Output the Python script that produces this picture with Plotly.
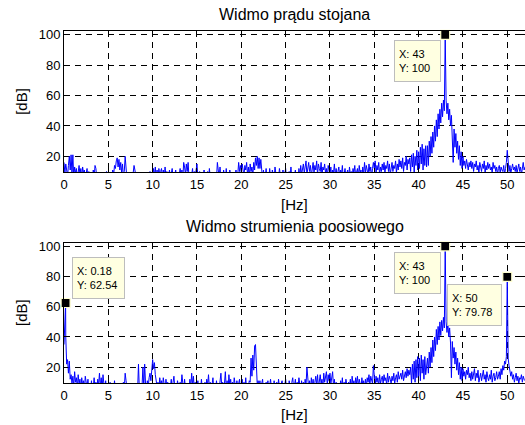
import plotly.graph_objects as go

FONT = "Liberation Sans, Arial, Helvetica, sans-serif"
FREQ_STEP = 0.1  # Hz between spectrum bins, first bin at 0 Hz

# Stator current spectrum [dB], one row per hertz (0.0 .. 52.0 Hz).
# None marks a bin whose value comes from the data-tip lists.
stator_db = [
    16, 9, 15, 12, 7, 14, 20, 11, 21, 8,
    21, 6, 13, 9, 12, 5, 11, 14, 8, 12,
    6, 13, 9, 11, 5, 8, 12, 4, 10, 7,
    5, 9, 4, 11, 6, 14, 12, 5, 7, 4,
    6, 3, 7, 4, 8, 5, 3, 6, 10, 4,
    3, 6, 4, 9, 5, 11, 8, 14, 12, 17,
    19, 13, 18, 11, 16, 9, 15, 6, 10, 20,
    12, 5, 8, 4, 7, 3, 6, 4, 9, 14,
    11, 5, 3, 6, 4, 7, 3, 5, 4, 6,
    4, 7, 3, 5, 8, 4, 6, 10, 5, 8,
    5, 12, 7, 13, 6, 11, 4, 12, 8, 10,
    12, 6, 11, 5, 13, 7, 10, 4, 8, 11,
    5, 9, 12, 6, 4, 8, 11, 5, 7, 4,
    9, 12, 6, 11, 5, 16, 13, 8, 15, 10,
    16, 6, 9, 4, 8, 12, 5, 10, 7, 12,
    15, 7, 4, 10, 5, 8, 3, 6, 11, 4,
    7, 5, 10, 4, 12, 6, 3, 8, 5, 9,
    4, 7, 5, 16, 11, 6, 13, 5, 9, 4,
    11, 6, 4, 12, 5, 8, 3, 11, 6, 4,
    6, 9, 4, 7, 11, 5, 8, 16, 10, 14,
    9, 15, 12, 7, 14, 11, 16, 8, 13, 6,
    15, 10, 13, 7, 16, 11, 19, 14, 20, 12,
    19, 12, 18, 8, 5, 11, 4, 7, 12, 5,
    9, 5, 12, 6, 4, 11, 7, 5, 13, 6,
    4, 8, 5, 12, 7, 4, 6, 11, 5, 9,
    12, 5, 7, 4, 10, 6, 13, 5, 8, 4,
    7, 11, 5, 9, 4, 12, 6, 14, 8, 12,
    15, 9, 13, 17, 8, 12, 16, 10, 14, 7,
    13, 16, 9, 14, 11, 17, 8, 15, 12, 10,
    16, 7, 13, 11, 15, 9, 12, 6, 14, 10,
    8, 13, 5, 11, 9, 15, 7, 12, 6, 10,
    13, 6, 11, 8, 14, 5, 10, 12, 7, 9,
    11, 5, 13, 8, 10, 6, 12, 9, 14, 7,
    10, 12, 6, 14, 9, 11, 5, 13, 8, 16,
    9, 14, 11, 7, 15, 10, 13, 6, 12, 16,
    12, 17, 9, 14, 11, 16, 8, 13, 10, 15,
    11, 16, 9, 14, 12, 17, 10, 15, 8, 13,
    16, 10, 14, 12, 17, 9, 15, 11, 18, 13,
    17, 12, 19, 10, 16, 14, 20, 11, 18, 15,
    19, 10, 21, 13, 22, 9, 20, 14, 24, 11,
    23, 12, 26, 15, 28, 11, 25, 14, 27, 13,
    27, 14, 30, 20, 33, 22, 36, 26, 40, 30,
    44, 33, 48, 38, 51, 42, 55, 46, 57, 50,
    None, 57, 48, 55, 44, 51, 40, 47, 36, 16,
    38, 26, 35, 22, 30, 18, 27, 14, 23, 12,
    20, 14, 17, 12, 18, 15, 11, 16, 13, 17,
    12, 16, 10, 15, 13, 17, 11, 14, 9, 16,
    13, 10, 15, 12, 17, 9, 14, 11, 16, 12,
    15, 11, 13, 9, 16, 12, 14, 10, 13, 8,
    12, 14, 9, 13, 11, 10, 14, 8, 12, 16,
    24, 13, 10, 14, 9, 12, 15, 11, 13, 10,
    14, 9, 12, 15, 10, 13, 8, 12, 16, 11,
    13,
]
stator_tip_hz = [43]
stator_tip_db = [100]

# Axial flux spectrum [dB], same bin layout.
flux_db = [
    35, 48, 40, 22, 25, 16, 24, 12, 15, 9,
    14, 7, 17, 10, 13, 6, 15, 9, 12, 5,
    13, 8, 11, 5, 14, 9, 6, 12, 4, 7,
    5, 11, 4, 7, 13, 6, 10, 4, 12, 8,
    16, 7, 13, 5, 15, 9, 6, 11, 4, 8,
    4, 7, 10, 5, 3, 8, 5, 11, 4, 6,
    9, 4, 6, 3, 7, 5, 8, 10, 6, 16,
    11, 6, 9, 4, 7, 3, 6, 4, 8, 5,
    6, 3, 7, 4, 22, 5, 8, 4, 7, 20,
    6, 22, 9, 5, 11, 7, 13, 16, 11, 18,
    25, 19, 23, 15, 12, 7, 10, 5, 13, 8,
    11, 6, 13, 8, 4, 12, 7, 10, 5, 9,
    7, 12, 5, 10, 14, 6, 9, 4, 11, 8,
    5, 10, 7, 15, 9, 4, 12, 6, 8, 5,
    9, 4, 12, 6, 16, 8, 14, 5, 10, 4,
    7, 11, 5, 9, 4, 12, 6, 8, 3, 10,
    5, 12, 8, 15, 6, 10, 4, 9, 13, 5,
    8, 4, 11, 6, 9, 5, 12, 16, 7, 10,
    5, 9, 17, 6, 11, 4, 15, 8, 12, 6,
    10, 5, 13, 7, 4, 11, 6, 9, 12, 5,
    8, 12, 4, 10, 6, 13, 5, 9, 7, 11,
    10, 26, 14, 28, 18, 34, 35, 12, 8, 11,
    6, 11, 4, 9, 12, 5, 8, 3, 10, 6,
    11, 4, 8, 12, 6, 9, 3, 11, 5, 7,
    10, 5, 12, 7, 4, 9, 11, 6, 3, 8,
    12, 6, 9, 4, 11, 7, 5, 10, 13, 6,
    8, 12, 5, 10, 7, 13, 9, 4, 11, 6,
    10, 5, 12, 8, 20, 9, 6, 11, 4, 13,
    7, 12, 5, 10, 14, 8, 15, 6, 11, 15,
    9, 12, 6, 16, 10, 14, 17, 8, 15, 11,
    16, 9, 13, 17, 7, 12, 5, 10, 8, 4,
    9, 5, 11, 7, 13, 4, 10, 6, 12, 8,
    5, 10, 7, 12, 4, 14, 8, 11, 6, 13,
    9, 14, 7, 12, 10, 6, 13, 8, 11, 5,
    12, 7, 13, 10, 15, 8, 14, 11, 9, 21,
    12, 8, 14, 10, 13, 7, 15, 9, 12, 14,
    9, 15, 11, 13, 8, 16, 10, 14, 12, 9,
    14, 11, 16, 9, 13, 15, 10, 17, 12, 14,
    16, 12, 18, 11, 15, 17, 13, 19, 14, 18,
    15, 20, 9, 22, 12, 24, 10, 25, 13, 27,
    14, 26, 11, 28, 16, 25, 12, 27, 15, 24,
    26, 16, 30, 20, 33, 23, 38, 27, 40, 31,
    45, 35, 47, 38, 50, 41, 51, 44, 53, 46,
    None, 50, 43, 49, 40, 46, 36, 13, 37, 26,
    33, 22, 30, 18, 26, 15, 23, 12, 20, 11,
    19, 14, 17, 12, 18, 15, 20, 13, 16, 11,
    17, 12, 15, 19, 11, 16, 13, 18, 10, 14,
    16, 11, 14, 18, 12, 15, 10, 17, 13, 11,
    15, 12, 18, 10, 14, 16, 11, 13, 17, 12,
    14, 17, 12, 19, 15, 21, 18, 24, 22, 27,
    None, 26, 21, 18, 14, 17, 12, 15, 10, 13,
    16, 11, 14, 9, 13, 12, 15, 10, 14, 12,
    11,
]
flux_tip_hz = [0.18, 43, 50]
flux_tip_db = [62.54, 100, 79.78]

x_ticks = [0, 5, 10, 15, 20, 25, 30, 35, 40, 45, 50]
y_ticks = [20, 40, 60, 80, 100]
titles = ["Widmo prądu stojana", "Widmo strumienia poosiowego"]
x_label = "[Hz]"
y_label = "[dB]"


def spectrum(db_bins, tip_hz, tip_db):
    """Merge the regular bins with the data-tip points into one sorted line."""
    pts = [(round(i * FREQ_STEP, 2), v) for i, v in enumerate(db_bins) if v is not None]
    pts += list(zip(tip_hz, tip_db))
    pts.sort()
    return [p[0] for p in pts], [p[1] for p in pts]


def tip_text(f, v):
    return f"X: {f:g}<br>Y: {v:g}"


fig = go.Figure()

panels = [
    (stator_db, stator_tip_hz, stator_tip_db, "x", "y"),
    (flux_db, flux_tip_hz, flux_tip_db, "x2", "y2"),
]
for db_bins, t_hz, t_db, xa, ya in panels:
    fx, fy = spectrum(db_bins, t_hz, t_db)
    fig.add_trace(go.Scatter(
        x=fx, y=fy, mode="lines", xaxis=xa, yaxis=ya,
        line=dict(color="#0000FF", width=1), hoverinfo="skip",
    ))
    fig.add_trace(go.Scatter(
        x=t_hz, y=t_db, mode="markers", xaxis=xa, yaxis=ya, cliponaxis=False,
        marker=dict(symbol="square", size=9, color="black",
                    line=dict(color="#FFFFD0", width=1.2)),
        hoverinfo="skip",
    ))

axis_common = dict(
    showline=True, mirror="ticks", linecolor="black", linewidth=1,
    ticks="inside", ticklen=4, tickcolor="black", tickwidth=1,
    showgrid=True, gridcolor="black", gridwidth=1, griddash="6px,5px",
    zeroline=False, tickfont=dict(family=FONT, size=13, color="black"),
)
fig.update_layout(
    xaxis=dict(axis_common, range=[0, 52], tickvals=x_ticks, anchor="y"),
    yaxis=dict(axis_common, range=[9.5, 102.5], tickvals=y_ticks,
               domain=[0.5986, 1.0], anchor="x"),
    xaxis2=dict(axis_common, range=[0, 52], tickvals=x_ticks, anchor="y2"),
    yaxis2=dict(axis_common, range=[9.5, 102.5], tickvals=y_ticks,
                domain=[0.0, 0.3986], anchor="x2"),
)

annotations = []
# subplot titles and axis labels
label_font = dict(family=FONT, size=15, color="black")
for text, y in [(titles[0], 1.048), (titles[1], 0.446)]:
    annotations.append(dict(text=text, xref="paper", yref="paper", x=0.5, y=y,
                            xanchor="center", yanchor="middle", showarrow=False,
                            font=dict(family=FONT, size=16, color="black")))
for y in [0.5085, -0.0909]:
    annotations.append(dict(text=x_label, xref="paper", yref="paper", x=0.5, y=y,
                            xanchor="center", yanchor="middle", showarrow=False,
                            font=label_font))
for y in [0.799, 0.199]:
    annotations.append(dict(text=y_label, xref="paper", yref="paper", x=-0.091, y=y,
                            xanchor="center", yanchor="middle", textangle=-90,
                            showarrow=False, font=label_font))

# data-tip boxes: (x ref, y ref, value lists, per-tip box placement)
tip_boxes = [
    ("x", "y", stator_tip_hz, stator_tip_db,
     [dict(xanchor="right", yanchor="top", xshift=-4, yshift=-5, width=37)]),
    ("x2", "y2", flux_tip_hz, flux_tip_db,
     [dict(xanchor="left", yanchor="bottom", xshift=6, yshift=4, width=43),
      dict(xanchor="right", yanchor="top", xshift=-4, yshift=-6, width=37),
      dict(xanchor="right", yanchor="top", xshift=-5, yshift=-7, width=45)]),
]
for xr, yr, t_hz, t_db, places in tip_boxes:
    for f, v, place in zip(t_hz, t_db, places):
        annotations.append(dict(
            text=tip_text(f, v), xref=xr, yref=yr, x=f, y=v, showarrow=False,
            align="left", height=32, bgcolor="#FFFFE1", bordercolor="#BDBDBD",
            borderwidth=1, borderpad=4,
            font=dict(family=FONT, size=11, color="black"), **place,
        ))

fig.update_layout(
    width=525, height=425, autosize=False,
    margin=dict(l=64, r=0, t=31, b=42),
    paper_bgcolor="white", plot_bgcolor="white",
    showlegend=False, annotations=annotations,
    font=dict(family=FONT, color="black"),
)

fig.write_html("out.html")
